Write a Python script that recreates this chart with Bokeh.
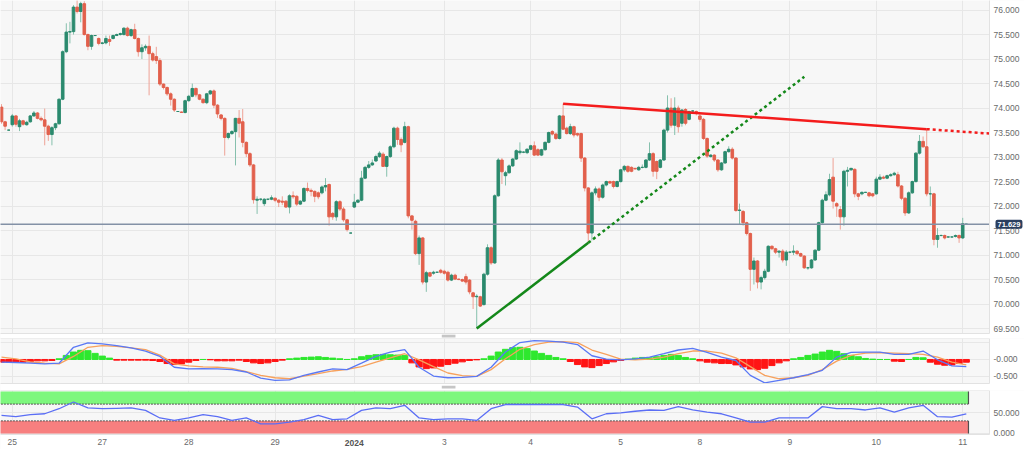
from bokeh.plotting import figure
from bokeh.layouts import column
from bokeh.models import ColumnDataSource, FixedTicker, Label, Range1d
from bokeh.core.properties import value
from bokeh.embed import file_html
from bokeh.resources import INLINE

# ---------------- data (hourly candles, index = bar number) ----------------
opens = [
    74.02, 73.72, 73.55, 73.66, 73.84, 73.62, 73.74, 73.66, 73.72, 73.84,
    73.90, 73.79, 73.76, 73.63, 73.46, 73.60, 73.68, 74.18, 75.15, 75.55,
    75.56, 76.06, 75.97, 76.13, 75.50, 75.26, 75.48, 75.42, 75.32, 75.33,
    75.40, 75.42, 75.48, 75.50, 75.50, 75.63, 75.48, 75.60, 75.42, 75.15,
    75.23, 75.26, 75.11, 75.05, 74.97, 74.49, 74.42, 74.29, 74.18, 73.93,
    73.92, 73.91, 74.15, 74.24, 74.40, 74.27, 74.18, 74.11, 74.29, 74.35,
    74.06, 73.86, 73.79, 73.40, 73.48, 73.52, 73.79, 73.72, 73.30, 73.07,
    72.84, 72.12, 72.14, 72.05, 72.14, 72.14, 72.16, 72.12, 72.10, 72.10,
    71.98, 72.21, 72.20, 72.04, 72.10, 72.36, 72.32, 72.30, 72.27, 72.27,
    72.39, 72.44, 71.85, 71.78, 72.09, 71.94, 71.72, 71.45, 71.98, 72.08,
    72.12, 72.57, 72.79, 72.84, 72.92, 73.01, 73.06, 72.81, 73.01, 73.21,
    73.59, 73.36, 73.30, 73.62, 71.80, 71.69, 71.03, 71.35, 70.45, 70.64,
    70.63, 70.65, 70.69, 70.67, 70.65, 70.49, 70.59, 70.51, 70.50, 70.56,
    70.49, 70.23, 70.15, 70.15, 69.99, 70.61, 71.15, 70.84, 72.21, 72.94,
    72.62, 72.68, 72.82, 72.96, 73.09, 73.10, 73.09, 73.16, 73.23, 73.15,
    73.04, 73.15, 73.30, 73.52, 73.47, 73.38, 73.84, 73.59, 73.48, 73.62,
    73.48, 73.48, 72.98, 72.37, 71.45, 72.27, 72.35, 72.18, 72.43, 72.50,
    72.50, 72.40, 72.50, 72.74, 72.81, 72.79, 72.77, 72.74, 72.79, 72.79,
    72.94, 73.07, 72.91, 72.79, 72.94, 73.55, 74.00, 73.65, 74.00, 73.69,
    73.97, 73.77, 73.94, 73.93, 73.84, 73.77, 73.38, 73.01, 73.04, 72.94,
    72.74, 72.88, 73.11, 73.16, 72.98, 71.91, 71.89, 71.66, 71.44,
    70.71, 70.88, 70.45, 70.54, 70.67, 71.18, 71.13, 71.06, 71.08, 70.90,
    71.06, 71.06, 71.08, 71.03, 70.98, 70.74, 70.74, 70.90, 71.10, 71.66,
    72.12, 72.23, 72.59, 72.05, 71.93, 71.78, 72.71, 72.74, 72.75, 72.25,
    72.25, 72.28, 72.27, 72.25, 72.25, 72.55, 72.59, 72.57, 72.62, 72.64,
    72.64, 72.41, 72.16, 71.86, 72.27, 72.50, 73.08, 73.32, 73.21, 72.25,
    72.25, 71.32, 71.40, 71.40, 71.37, 71.37, 71.38, 71.40, 71.35, 71.63,
]
closes = [
    73.72, 73.63, 73.55, 73.84, 73.67, 73.74, 73.67, 73.71, 73.84, 73.90,
    73.79, 73.76, 73.63, 73.46, 73.60, 73.68, 74.18, 75.15, 75.55, 75.56,
    76.06, 75.97, 76.13, 75.50, 75.26, 75.48, 75.48, 75.32, 75.33, 75.42,
    75.36, 75.48, 75.50, 75.52, 75.63, 75.48, 75.60, 75.42, 75.15, 75.23,
    75.26, 75.11, 74.98, 74.97, 74.49, 74.42, 74.29, 74.18, 73.96, 73.93,
    73.91, 74.15, 74.24, 74.40, 74.27, 74.18, 74.11, 74.29, 74.35, 74.06,
    73.88, 73.79, 73.40, 73.48, 73.52, 73.79, 73.69, 73.30, 73.07, 72.84,
    72.13, 72.14, 72.14, 72.14, 72.14, 72.17, 72.12, 72.08, 72.08, 71.98,
    72.21, 72.19, 72.04, 72.10, 72.36, 72.32, 72.30, 72.20, 72.19, 72.39,
    72.42, 71.78, 71.78, 72.09, 71.94, 71.72, 71.52, 71.45, 72.08, 72.12,
    72.57, 72.79, 72.84, 72.88, 73.01, 73.08, 72.81, 73.01, 73.21, 73.59,
    73.36, 73.25, 73.62, 71.80, 71.71, 71.03, 71.35, 70.45, 70.64, 70.57,
    70.65, 70.65, 70.65, 70.63, 70.49, 70.59, 70.51, 70.50, 70.47, 70.45,
    70.25, 70.15, 70.16, 69.96, 70.61, 71.15, 70.84, 72.21, 72.94, 72.70,
    72.68, 72.82, 72.96, 73.13, 73.12, 73.10, 73.16, 73.23, 73.04, 73.04,
    73.15, 73.30, 73.50, 73.47, 73.38, 73.84, 73.57, 73.48, 73.62, 73.45,
    73.45, 72.98, 72.37, 71.45, 72.27, 72.35, 72.18, 72.43, 72.50, 72.47,
    72.40, 72.50, 72.74, 72.81, 72.71, 72.71, 72.76, 72.79, 72.79, 72.94,
    73.07, 72.71, 72.71, 72.94, 73.55, 74.00, 73.65, 74.00, 73.62, 73.96,
    73.69, 73.93, 73.94, 73.89, 73.77, 73.38, 73.02, 73.04, 72.94, 72.74,
    72.88, 73.11, 73.16, 72.98, 71.91, 71.92, 71.66, 71.44, 70.71,
    70.88, 70.45, 70.54, 70.67, 71.18, 71.13, 71.06, 71.08, 70.90, 71.06,
    71.06, 71.08, 71.03, 70.98, 70.74, 70.74, 70.90, 71.10, 71.66, 72.12,
    72.23, 72.54, 72.10, 72.00, 71.78, 72.71, 72.73, 72.77, 72.25, 72.20,
    72.28, 72.28, 72.21, 72.21, 72.55, 72.59, 72.57, 72.62, 72.64, 72.67,
    72.41, 72.16, 71.86, 72.27, 72.50, 73.08, 73.32, 73.21, 72.25, 72.25,
    71.32, 71.40, 71.40, 71.35, 71.37, 71.37, 71.40, 71.35, 71.64, 71.63,
]
highs = [
    74.08, 73.74, 73.56, 73.88, 73.86, 73.78, 73.76, 73.74, 73.86, 73.94,
    73.92, 73.83, 73.99, 73.66, 73.63, 73.70, 74.20, 75.18, 75.73, 75.76,
    76.10, 76.20, 76.17, 76.18, 75.52, 75.50, 75.49, 75.44, 75.35, 75.48,
    75.48, 75.50, 75.52, 75.54, 75.65, 75.66, 75.62, 75.72, 75.44, 75.30,
    75.30, 75.48, 75.15, 75.25, 75.02, 74.50, 74.44, 74.32, 74.20, 73.94,
    73.93, 74.17, 74.27, 74.50, 74.42, 74.29, 74.20, 74.31, 74.37, 74.38,
    74.08, 73.88, 73.81, 73.50, 73.55, 73.80, 73.96, 73.98, 73.32, 73.10,
    72.86, 72.20, 72.16, 72.16, 72.15, 72.22, 72.18, 72.14, 72.20, 72.12,
    72.24, 72.30, 72.22, 72.12, 72.38, 72.48, 72.36, 72.32, 72.30, 72.42,
    72.57, 72.46, 71.88, 72.12, 72.12, 71.98, 71.74, 71.46, 72.25, 72.14,
    72.72, 72.82, 72.92, 72.95, 73.05, 73.12, 73.10, 73.03, 73.24, 73.62,
    73.62, 73.40, 73.72, 73.64, 71.82, 71.72, 71.40, 71.37, 70.68, 70.66,
    70.68, 70.66, 70.72, 70.70, 70.68, 70.62, 70.62, 70.52, 70.52, 70.62,
    70.51, 70.25, 70.20, 70.17, 70.64, 71.22, 71.18, 72.24, 72.98, 72.98,
    72.72, 72.85, 72.98, 73.16, 73.30, 73.12, 73.18, 73.25, 73.32, 73.18,
    73.17, 73.32, 73.52, 73.55, 73.50, 73.86, 74.09, 73.62, 73.68, 73.64,
    73.50, 73.50, 73.00, 72.39, 72.30, 72.40, 72.38, 72.46, 72.52, 72.52,
    72.52, 72.52, 72.76, 72.84, 72.83, 72.81, 72.78, 72.82, 72.85, 72.96,
    73.30, 73.10, 72.93, 72.96, 73.58, 74.26, 74.20, 74.22, 74.05, 73.98,
    74.00, 73.95, 73.96, 73.95, 73.88, 73.80, 73.40, 73.06, 73.06, 72.96,
    72.90, 73.13, 73.22, 73.20, 73.00, 72.05, 71.92, 71.68, 71.46,
    70.95, 70.90, 70.58, 70.72, 71.20, 71.20, 71.15, 71.10, 71.12, 71.10,
    71.08, 71.20, 71.10, 71.05, 71.00, 70.76, 70.92, 71.12, 71.68, 72.15,
    72.30, 72.66, 72.98, 72.08, 72.00, 72.74, 72.80, 72.78, 72.77, 72.27,
    72.30, 72.29, 72.29, 72.27, 72.60, 72.65, 72.62, 72.64, 72.67, 72.70,
    72.70, 72.43, 72.18, 72.30, 72.52, 73.10, 73.45, 73.42, 73.57, 72.40,
    72.27, 71.55, 71.42, 71.42, 71.38, 71.38, 71.42, 71.42, 71.76, 71.64,
]
lows = [
    73.68, 73.55, 73.54, 73.62, 73.62, 73.53, 73.64, 73.64, 73.70, 73.82,
    73.77, 73.73, 73.24, 73.33, 73.24, 73.55, 73.66, 74.16, 75.12, 75.32,
    75.50, 75.93, 75.75, 75.48, 75.18, 75.19, 75.47, 75.28, 75.30, 75.30,
    75.27, 75.40, 75.47, 75.48, 75.48, 75.46, 75.45, 75.40, 75.05, 75.00,
    75.17, 74.26, 74.95, 74.90, 74.45, 74.38, 74.25, 74.05, 73.92, 73.92,
    73.90, 73.89, 74.13, 74.22, 74.22, 74.16, 74.09, 74.08, 74.27, 74.00,
    73.80, 73.75, 73.03, 73.36, 73.45, 72.83, 73.40, 73.20, 73.00, 72.80,
    72.05, 71.84, 72.10, 72.00, 72.12, 72.12, 72.08, 71.98, 72.02, 71.96,
    71.85, 72.15, 72.00, 72.02, 72.08, 72.28, 72.20, 72.08, 72.14, 72.24,
    72.30, 71.60, 71.72, 71.70, 71.90, 71.68, 71.48, 71.44, 71.96, 72.06,
    72.10, 72.55, 72.76, 72.82, 72.90, 72.98, 72.80, 72.60, 72.98, 73.18,
    73.25, 73.10, 73.28, 71.75, 71.52, 71.00, 70.80, 70.40, 70.25, 70.55,
    70.60, 70.64, 70.62, 70.60, 70.46, 70.47, 70.49, 70.49, 70.45, 70.40,
    70.20, 69.90, 69.52, 69.94, 69.97, 70.58, 70.80, 70.82, 72.19, 72.45,
    72.42, 72.66, 72.80, 72.94, 73.05, 73.08, 73.06, 73.14, 73.02, 73.02,
    73.02, 73.13, 73.28, 73.44, 73.35, 73.36, 73.55, 73.46, 73.45, 73.40,
    73.42, 72.90, 72.30, 71.25, 71.30, 72.22, 72.10, 72.15, 72.40, 72.45,
    72.36, 72.38, 72.48, 72.70, 72.68, 72.69, 72.74, 72.72, 72.77, 72.77,
    72.92, 72.60, 72.55, 72.77, 72.92, 73.50, 73.60, 73.45, 73.50, 73.62,
    73.65, 73.75, 73.92, 73.85, 73.72, 73.35, 72.98, 72.99, 72.90, 72.70,
    72.72, 72.86, 73.09, 72.95, 71.88, 71.62, 71.60, 71.40, 70.27,
    70.40, 70.32, 70.30, 70.50, 70.65, 71.10, 71.02, 70.95, 70.85, 70.78,
    71.04, 71.00, 71.00, 70.96, 70.72, 70.70, 70.72, 70.88, 71.08, 71.64,
    72.10, 72.20, 71.95, 71.78, 71.52, 71.60, 72.40, 72.72, 72.18, 72.12,
    72.22, 72.27, 72.18, 72.18, 72.23, 72.53, 72.55, 72.55, 72.60, 72.62,
    72.38, 72.12, 71.80, 71.84, 72.25, 72.48, 73.05, 73.19, 72.20, 72.00,
    71.20, 71.15, 71.38, 71.32, 71.35, 71.35, 71.36, 71.25, 71.33, 71.62,
]
last_price = 71.629

# MACD / signal / RSI sampled every 4 bars, histogram every 2 bars
macd_line = [-0.08, -0.09, -0.11, -0.13, -0.11, 0.36, 0.49, 0.46, 0.41, 0.34,
             0.25, 0.09, -0.23, -0.28, -0.27, -0.28, -0.30, -0.37, -0.55, -0.62,
             -0.60, -0.47, -0.37, -0.28, -0.30, -0.11, 0.09, 0.22, 0.29, -0.23,
             -0.49, -0.54, -0.53, -0.50, -0.23, 0.22, 0.50, 0.56, 0.54, 0.51,
             0.44, 0.11, 0.01, -0.01, 0.02, 0.07, 0.17, 0.28, 0.33, 0.21,
             0.07, -0.03, -0.47, -0.69, -0.62, -0.54, -0.45, -0.32, 0.07, 0.21,
             0.22, 0.22, 0.15, 0.15, 0.25, -0.01, -0.19, -0.21]
signal_line = [0.07, 0.02, -0.07, -0.11, -0.13, 0.09, 0.36, 0.41, 0.39, 0.34,
               0.29, 0.13, -0.13, -0.19, -0.22, -0.23, -0.26, -0.36, -0.47, -0.54,
               -0.57, -0.49, -0.42, -0.34, -0.29, -0.21, -0.08, 0.05, 0.17, -0.01,
               -0.21, -0.40, -0.48, -0.50, -0.30, 0.02, 0.30, 0.44, 0.51, 0.53,
               0.50, 0.28, 0.15, 0.01, -0.01, 0.01, 0.07, 0.17, 0.25, 0.25,
               0.19, 0.05, -0.21, -0.47, -0.57, -0.54, -0.47, -0.30, -0.05, 0.12,
               0.19, 0.20, 0.19, 0.17, 0.15, 0.07, -0.08, -0.16]
macd_hist = [-0.08, -0.08, -0.08, -0.08, -0.07, -0.04, -0.04, -0.03, 0.02, 0.12,
             0.22, 0.27, 0.26, 0.18, 0.10, 0.04, -0.02, -0.02, -0.02, -0.02,
             -0.02, -0.03, -0.06, -0.12, -0.15, -0.13, -0.08, -0.03, 0.0, -0.01,
             -0.04, -0.04, -0.04, -0.02, -0.06, -0.10, -0.12, -0.10, -0.06, -0.02,
             0.02, 0.04, 0.06, 0.07, 0.08, 0.06, 0.04, 0.02, 0.0, 0.02,
             0.08, 0.12, 0.14, 0.15, 0.14, 0.13, 0.12, -0.10, -0.22, -0.27,
             -0.25, -0.20, -0.15, -0.11, -0.07, -0.03, -0.01, 0.02, 0.10, 0.22,
             0.30, 0.35, 0.36, 0.32, 0.25, 0.18, 0.12, 0.06, 0.02, -0.06,
             -0.15, -0.22, -0.24, -0.18, -0.12, -0.07, -0.03, 0.01, 0.04, 0.06,
             0.05, 0.08, 0.12, 0.15, 0.12, 0.06, 0.02, -0.04, -0.08, -0.10,
             -0.12, -0.12, -0.16, -0.22, -0.28, -0.30, -0.26, -0.18, -0.10, -0.04,
             0.02, 0.06, 0.12, 0.16, 0.22, 0.27, 0.24, 0.17, 0.12, 0.08,
             0.03, 0.01, 0.0, 0.0, -0.05, -0.06, 0.0, 0.06, 0.05, -0.08,
             -0.14, -0.17, -0.16, -0.12, -0.08]
rsi_line = [43, 40, 45, 47, 59, 75, 61, 59, 60, 61,
            55, 37, 31, 37, 45, 40, 31, 37, 23, 23,
            27, 33, 43, 33, 35, 55, 61, 59, 67, 37,
            33, 35, 35, 31, 59, 69, 69, 69, 69, 69,
            63, 35, 47, 49, 53, 56, 55, 64, 56, 51,
            47, 37, 27, 27, 37, 37, 37, 64, 59, 59,
            56, 61, 51, 61, 67, 40, 39, 47]

# trend lines: (bar index, price)
support_solid = ([132, 163], [69.50, 71.25])
support_dotted = ([163, 223], [71.25, 74.64])
resist_solid = ([156, 257], [74.09, 73.57])
resist_dotted = ([257, 274.4], [73.57, 73.48])

price_ticks = [69.5, 70.0, 70.5, 71.0, 71.5, 72.0, 72.5, 73.0, 73.5, 74.0, 74.5, 75.0, 75.5, 76.0]
macd_ticks = [0.0, -0.5]
macd_tick_labels = ["-0.000", "-0.500"]
rsi_ticks = [0, 50]
day_ticks = [3, 28, 52, 76, 98, 123, 147, 172, 194, 219, 243, 267]
day_labels = ["25", "27", "28", "29", "2024", "3", "4", "5", "8", "9", "10", "11"]
bold_label = "2024"

# ---------------- styling ----------------
W = 1024
SCALE_W = 35            # width of the white price-scale strip on the right
PX_PER_BAR = 3.6
X0 = -0.28
X_END = X0 + (W - SCALE_W) / PX_PER_BAR     # right edge of the chart area
X_MAX = X0 + W / PX_PER_BAR
BG = "#f7f7f7"
GRID = "#e7e7e7"
EDGE = "#e2e2e2"
FONT = "Liberation Sans"
FS = "8.5px"
LBL = "#6a6a6a"
GREEN = "#2b8a6e"
RED = "#e2604c"
HANDLE = "#c6c6c6"
HANDLE_X = (122.3, 126.1)   # bar-index span of the pane-resize handles

n = min(len(opens), len(closes), len(highs), len(lows))
idx = list(range(n))
up = [closes[i] >= opens[i] for i in idx]
src = ColumnDataSource(dict(
    x=idx,
    top=[max(opens[i], closes[i]) for i in idx],
    bottom=[min(opens[i], closes[i]) for i in idx],
    hi=highs[:n], lo=lows[:n],
    bc=[GREEN if u else RED for u in up],
    wc=["#86c0ad" if u else "#eea296" for u in up],
))

xr = Range1d(X0, X_MAX)


def make_fig(h, y0, y1, ygrid_ticks, xaxis=None):
    p = figure(width=W, height=h, x_range=xr, y_range=Range1d(y0, y1),
               output_backend="svg", toolbar_location=None,
               x_axis_location=xaxis, y_axis_location=None,
               min_border_left=0, min_border_right=0, min_border_top=0,
               min_border_bottom=0, background_fill_color=BG,
               border_fill_color="#ffffff", outline_line_color=None)
    p.xgrid.ticker = FixedTicker(ticks=day_ticks)
    p.xgrid.grid_line_color = GRID
    p.ygrid.ticker = FixedTicker(ticks=ygrid_ticks)
    p.ygrid.grid_line_color = GRID
    return p


def add_scale(p, y_lo, y_hi, ticks, labels, box_lo, box_hi):
    """white value-scale strip at the right edge, with its tick labels"""
    p.quad(left=X_END, right=X_MAX + 5, bottom=y_lo, top=y_hi, fill_color="#ffffff", line_color=None)
    p.line([X0 - 1, X_END, X_END, X0 - 1], [box_hi, box_hi, box_lo, box_lo],
           line_color=EDGE, line_width=1)
    p.text(x=[X_END + 4 / PX_PER_BAR] * len(ticks), y=ticks, text=labels,
           text_align="left", text_baseline="middle",
           text_font=value(FONT), text_font_size=FS, text_color=LBL)


# ---- main price panel (333 px chart + 5 px gap) ----
Y_LO, Y_HI = 69.40, 76.195
ppu1 = 333 / (Y_HI - Y_LO)
p1_bottom = Y_LO - 5 / ppu1
p1 = make_fig(338, p1_bottom, Y_HI, price_ticks)
p1.segment(x0="x", y0="lo", x1="x", y1="hi", source=src, line_color="wc", line_width=1)
p1.vbar(x="x", width=0.72, top="top", bottom="bottom", source=src,
        fill_color="bc", line_color="bc", line_width=1)
p1.line([X0 - 1, X_END], [last_price, last_price], line_color="#8391a6", line_width=1.5)
p1.line(support_solid[0], support_solid[1], line_color="#14881a", line_width=2.5)
p1.line(support_dotted[0], support_dotted[1], line_color="#14881a", line_width=2.5, line_dash="3 3")
p1.line(resist_solid[0], resist_solid[1], line_color="#f41c1c", line_width=2.5)
p1.line(resist_dotted[0], resist_dotted[1], line_color="#f41c1c", line_width=2.5, line_dash="3 3")
p1.quad(left=X0 - 5, right=X_MAX + 5, bottom=p1_bottom - 1, top=Y_LO, fill_color="#ffffff", line_color=None)
p1.quad(left=HANDLE_X[0], right=HANDLE_X[1], bottom=Y_LO - 4 / ppu1, top=Y_LO - 1.2 / ppu1,
        fill_color=HANDLE, line_color=None)
add_scale(p1, p1_bottom - 1, Y_HI + 1, price_ticks, [f"{v:.3f}" for v in price_ticks], Y_LO, Y_HI + 1)
p1.add_layout(Label(x=X_END + 6 / PX_PER_BAR, y=last_price, text=f"{last_price:.3f}",
                    text_align="left", text_baseline="middle", text_color="white",
                    text_font=FONT, text_font_size="7.5px", text_font_style="bold",
                    background_fill_color="#2b3f5f", padding=2, border_radius=2))

# ---- MACD panel (45 px chart + 7 px gap) ----
M_LO, M_HI = -0.71, 0.62
ppu2 = 45 / (M_HI - M_LO)
p2_bottom = M_LO - 7 / ppu2
p2 = make_fig(52, p2_bottom, M_HI, [0.5, 0.0, -0.5])
hx = [2 * k for k in range(len(macd_hist))]
p2.vbar(x=hx, width=1.7, top=macd_hist, bottom=0,
        color=["#2ee82e" if v >= 0 else "#ff1414" for v in macd_hist])
ix = [4 * k for k in range(len(macd_line))]
p2.line(ix, signal_line, line_color="#f7a15c", line_width=1.3)
p2.line(ix, macd_line, line_color="#5a78f5", line_width=1.3)
p2.quad(left=X0 - 5, right=X_MAX + 5, bottom=p2_bottom - 1, top=M_LO, fill_color="#ffffff", line_color=None)
p2.quad(left=HANDLE_X[0], right=HANDLE_X[1], bottom=M_LO - 5 / ppu2, top=M_LO - 2.2 / ppu2,
        fill_color=HANDLE, line_color=None)
add_scale(p2, p2_bottom - 1, M_HI + 1, macd_ticks, macd_tick_labels, M_LO, M_HI)

# ---- RSI panel (44 px chart + 15 px date strip) ----
RSI_LO, RSI_HI = -2.4, 102.4
ppu3 = 44 / (RSI_HI - RSI_LO)
p3_bottom = RSI_HI - 59 / ppu3
p3 = make_fig(59, p3_bottom, RSI_HI, rsi_ticks, xaxis="below")
band_end = 268.6
p3.quad(left=-1, right=band_end, bottom=70, top=100, fill_color="#7df77d", line_color=None)
p3.quad(left=-1, right=band_end, bottom=0, top=30, fill_color="#f77f7f", line_color=None)
p3.line([-1, band_end], [70, 70], line_color="#505050", line_width=1, line_dash="2 1")
p3.line([-1, band_end], [30, 30], line_color="#505050", line_width=1, line_dash="2 1")
p3.segment(x0=[band_end, band_end], y0=[70, 0], x1=[band_end, band_end], y1=[100, 30],
           line_color="#505050", line_width=1.2)
rx = [4 * k for k in range(len(rsi_line))]
p3.line(rx, rsi_line, line_color="#5b6ef5", line_width=1.3)
p3.quad(left=X0 - 5, right=X_MAX + 5, bottom=p3_bottom - 20, top=RSI_LO, fill_color="#ffffff", line_color=None)
add_scale(p3, p3_bottom - 20, RSI_HI + 5, rsi_ticks, [f"{v:.3f}" for v in rsi_ticks], RSI_LO, RSI_HI)
xa = p3.xaxis[0]
xa.ticker = FixedTicker(ticks=day_ticks)
xa.major_label_overrides = {t: ("" if l == bold_label else l) for t, l in zip(day_ticks, day_labels)}
xa.axis_line_color = None
xa.major_tick_line_color = None
xa.minor_tick_line_color = None
xa.major_tick_out = 0
xa.major_tick_in = 0
xa.minor_tick_out = 0
xa.minor_tick_in = 0
xa.major_label_text_font = FONT
xa.major_label_text_font_size = FS
xa.major_label_text_color = LBL
xa.major_label_standoff = -11
for t, l in zip(day_ticks, day_labels):
    if l == bold_label:
        p3.add_layout(Label(x=t, y=RSI_HI - 52.5 / ppu3, text=l, text_align="center",
                            text_baseline="middle", text_font=FONT, text_font_size=FS,
                            text_font_style="bold", text_color="#555555"))

layout = column(p1, p2, p3, spacing=0)
open("out.html", "w").write(file_html(layout, INLINE))
